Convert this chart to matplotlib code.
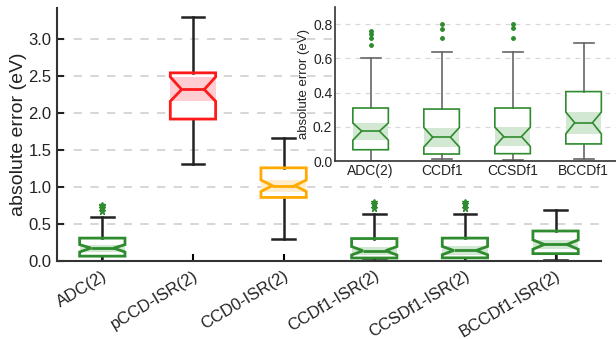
import numpy as np
import matplotlib
matplotlib.use("Agg")
import matplotlib.pyplot as plt
import matplotlib.transforms as mtransforms

plt.rcParams['font.family'] = ['Liberation Sans', 'DejaVu Sans']

# main panel: box statistics (eV)
methods = ['ADC(2)', 'pCCD-ISR(2)', 'CCD0-ISR(2)', 'CCDf1-ISR(2)', 'CCSDf1-ISR(2)', 'BCCDf1-ISR(2)']
q1 = [0.066, 1.92, 0.86, 0.041, 0.043, 0.10]
q3 = [0.31, 2.545, 1.26, 0.304, 0.31, 0.406]
med = [0.175, 2.32, 1.02, 0.139, 0.143, 0.224]
ci_lo = [0.122, 2.16, 0.94, 0.082, 0.085, 0.159]
ci_hi = [0.222, 2.49, 1.095, 0.196, 0.198, 0.286]
w_lo = [0.0, 1.31, 0.30, 0.01, 0.005, 0.01]
w_hi = [0.60, 3.30, 1.66, 0.64, 0.64, 0.69]
outliers = [[0.68, 0.72, 0.74, 0.76], [], [], [0.72, 0.77, 0.80], [0.72, 0.775, 0.80], []]
box_colors = ['#2e8b2e', '#ff1a1a', '#ffaa00', '#2e8b2e', '#2e8b2e', '#2e8b2e']
shade_colors = ['#d3e8d3', '#ffcdd2', '#ffedcc', '#d3e8d3', '#d3e8d3', '#d3e8d3']

# inset: the green methods only
inset_labels = ['ADC(2)', 'CCDf1', 'CCSDf1', 'BCCDf1']
inset_idx = [0, 3, 4, 5]


def make_stats(idx):
    return [dict(med=med[i], q1=q1[i], q3=q3[i], whislo=w_lo[i], whishi=w_hi[i],
                 cilo=ci_lo[i], cihi=ci_hi[i], fliers=outliers[i]) for i in idx]


def draw_boxes(ax, idx, lw_box, whisk_col, lw_whisk, cap_w, flier_kw):
    pos = np.arange(1, len(idx) + 1)
    width = 0.5
    stats = make_stats(idx)
    for p, i in zip(pos, idx):
        # white box body and shaded notch band underneath the outline
        ax.fill_between([p - width / 2, p + width / 2], q1[i], q3[i], color='white', zorder=1.5, lw=0)
        ax.fill_between([p - width / 2, p + width / 2], ci_lo[i], ci_hi[i],
                        color=shade_colors[i], zorder=1.6, lw=0)
    bp = ax.bxp(stats, positions=pos, widths=width, shownotches=True, patch_artist=True,
                capwidths=cap_w, manage_ticks=False, zorder=2)
    for k, i in enumerate(idx):
        c = box_colors[i]
        bp['boxes'][k].set(facecolor='none', edgecolor=c, linewidth=lw_box, zorder=2.5)
        bp['medians'][k].set(color=c, linewidth=lw_box, zorder=2.6)
        bp['fliers'][k].set(markerfacecolor=c, markeredgecolor=c, **flier_kw)
    for w in bp['whiskers'] + bp['caps']:
        w.set(color=whisk_col, linewidth=lw_whisk)
    return pos


fig = plt.figure(figsize=(6.16, 3.39), dpi=100)

ax = fig.add_axes([0.0925, 0.23, 0.883, 0.746])
pos = draw_boxes(ax, range(len(methods)), 2.0, '#222222', 1.8, 0.25,
                 dict(marker='*', markersize=5, color='#1f7a1f'))
ax.set_xlim(0.5, 6.5)
ax.set_ylim(0, 3.42)
ax.set_yticks([0.0, 0.5, 1.0, 1.5, 2.0, 2.5, 3.0])
ax.set_xticks(pos)
ax.set_xticklabels(methods, rotation=31, ha='right', rotation_mode='anchor', fontsize=12, color='#222222')
shift = mtransforms.ScaledTranslation(9 / 72, 0, fig.dpi_scale_trans)
for lab in ax.get_xticklabels():
    lab.set_transform(lab.get_transform() + shift)
ax.tick_params(axis='y', direction='in', length=5, width=1.5, labelsize=12, colors='#222222', pad=4)
ax.tick_params(axis='x', direction='in', length=5, width=1.5, pad=5)
ax.set_ylabel('absolute error (eV)', fontsize=14, color='#222222', labelpad=1)
ax.yaxis.grid(True, linestyle=(0, (5, 5)), color='#d0d0d0', linewidth=1.2, zorder=0)
ax.set_axisbelow(True)
for s in ['top', 'right']:
    ax.spines[s].set_visible(False)
for s in ['left', 'bottom']:
    ax.spines[s].set_linewidth(1.5)
    ax.spines[s].set_color('#333333')

ins = fig.add_axes([0.544, 0.525, 0.461, 0.454])
ipos = draw_boxes(ins, inset_idx, 1.2, '#666666', 1.2, 0.28,
                  dict(marker='o', markersize=2.5))
ins.set_xlim(0.5, 4.5)
ins.set_ylim(0, 0.9)
ins.set_yticks([0.0, 0.2, 0.4, 0.6, 0.8])
ins.set_xticks(ipos)
ins.set_xticklabels(inset_labels, fontsize=10, color='#222222')
ins.tick_params(axis='both', length=0, labelsize=10, colors='#222222', pad=2)
ins.set_ylabel('absolute error (eV)', fontsize=9.5, color='#222222', labelpad=2)
ins.yaxis.grid(True, linestyle=(0, (4, 4)), color='#d8d8d8', linewidth=0.9, zorder=0)
ins.set_axisbelow(True)
for s in ['top', 'right']:
    ins.spines[s].set_visible(False)
for s in ['left', 'bottom']:
    ins.spines[s].set_linewidth(1.2)
    ins.spines[s].set_color('#333333')

fig.savefig('out.png', dpi=100)
